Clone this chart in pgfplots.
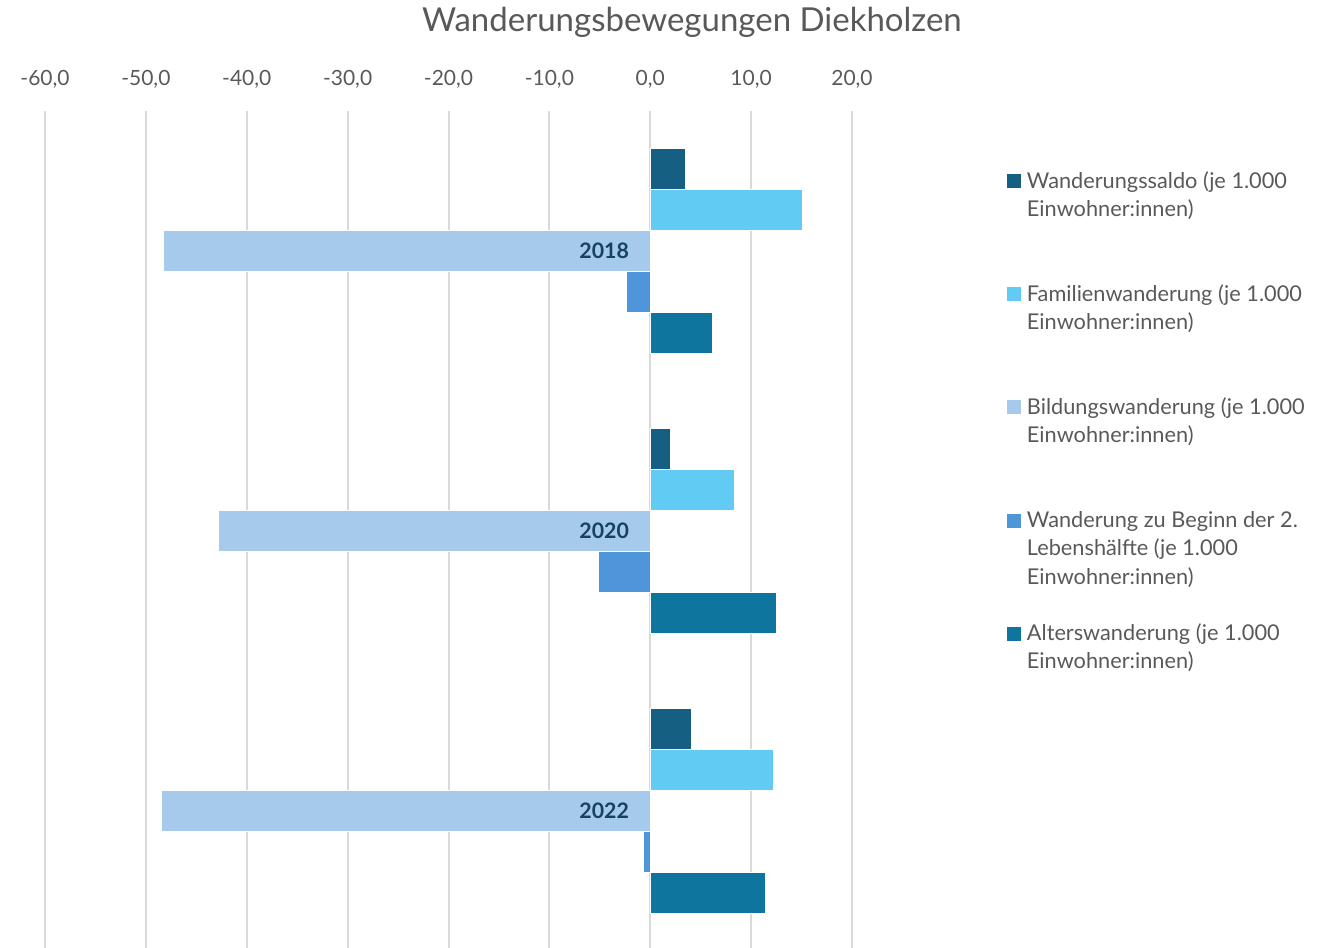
\documentclass[border=0pt]{standalone}
\usepackage{pgfplots}
\pgfplotsset{compat=1.18}
\usepackage{fontspec}
\setmainfont{Lato}
\definecolor{saldo}{HTML}{156082}
\definecolor{familien}{HTML}{61CBF3}
\definecolor{bildung}{HTML}{A6CAEC}
\definecolor{beginn}{HTML}{4E95D9}
\definecolor{alters}{HTML}{0E759E}
\definecolor{yearcol}{HTML}{15435F}
\definecolor{gridgray}{HTML}{D9D9D9}
\definecolor{textgray}{HTML}{595959}
\begin{document}
\begin{tikzpicture}
\useasboundingbox (0,0) rectangle (999pt,-711pt);
\begin{axis}[
  at={(33.75pt,-713.25pt)}, anchor=south west,
  scale only axis, width=605.25pt, height=630pt,
  xbar, bar width=30.75pt,
  xmin=-60, xmax=20, ymin=-0.5, ymax=2.5,
  xtick={-60,-50,-40,-30,-20,-10,0,10,20},
  ytick=\empty,
  axis x line*=top,
  x axis line style={draw=none},
  axis y line=center,
  y axis line style={-, draw=gridgray, line width=1.5pt},
  xmajorgrids, grid style={gridgray, line width=1.5pt},
  major tick style={draw=none},
  /pgf/number format/assume math mode=true,
  xticklabel={\pgfmathprintnumber[fixed, fixed zerofill, precision=1, use comma]{\tick}},
  x tick label style={font=\fontsize{15.75pt}{18pt}\selectfont, text=textgray, anchor=center, yshift=24pt},
  legend cell align=left,
  legend image code/.code={\fill[#1,draw=none] (0pt,0pt) rectangle (10.5pt,10.5pt);},
  legend style={at={(axis description cs:1.192,0.9316)}, anchor=north west, draw=none, fill=none,
    font=\fontsize{16.3pt}{21.75pt}\selectfont, text=textgray,
    row sep=0pt, column sep=4.5pt, inner sep=0pt, outer sep=0pt,
    nodes={inner sep=0pt, anchor=base west, text height=15pt, text depth=6.19pt}},
]
\addplot[xbar, bar shift=61.5pt, fill=saldo, draw=white, line width=0.5pt]
  coordinates {(3.5,2) (2.0,1) (4.1,0)};
\addlegendentry{Wanderungssaldo (je 1.000}
\addlegendimage{empty legend}\addlegendentry{Einwohner:innen)}
\addlegendimage{empty legend}\addlegendentry{}
\addlegendimage{empty legend}\addlegendentry{}
\addplot[xbar, bar shift=30.75pt, fill=familien, draw=white, line width=0.5pt]
  coordinates {(15.1,2) (8.3,1) (12.2,0)};
\addlegendentry{Familienwanderung (je 1.000}
\addlegendimage{empty legend}\addlegendentry{Einwohner:innen)}
\addlegendimage{empty legend}\addlegendentry{}
\addlegendimage{empty legend}\addlegendentry{}
\addplot[xbar, bar shift=0pt, fill=bildung, draw=white, line width=0.5pt]
  coordinates {(-48.3,2) (-42.8,1) (-48.5,0)};
\addlegendentry{Bildungswanderung (je 1.000}
\addlegendimage{empty legend}\addlegendentry{Einwohner:innen)}
\addlegendimage{empty legend}\addlegendentry{}
\addlegendimage{empty legend}\addlegendentry{}
\addplot[xbar, bar shift=-30.75pt, fill=beginn, draw=white, line width=0.5pt]
  coordinates {(-2.35,2) (-5.1,1) (-0.65,0)};
\addlegendentry{Wanderung zu Beginn der 2.}
\addlegendimage{empty legend}\addlegendentry{Lebenshälfte (je 1.000}
\addlegendimage{empty legend}\addlegendentry{Einwohner:innen)}
\addlegendimage{empty legend}\addlegendentry{}
\addplot[xbar, bar shift=-61.5pt, fill=alters, draw=white, line width=0.5pt]
  coordinates {(6.2,2) (12.5,1) (11.4,0)};
\addlegendentry{Alterswanderung (je 1.000}
\addlegendimage{empty legend}\addlegendentry{Einwohner:innen)}
\node[anchor=east, font=\bfseries\fontsize{16pt}{18pt}\selectfont, text=yearcol, xshift=-12.5pt] at (axis cs:0,2) {2018};
\node[anchor=east, font=\bfseries\fontsize{16pt}{18pt}\selectfont, text=yearcol, xshift=-12.5pt] at (axis cs:0,1) {2020};
\node[anchor=east, font=\bfseries\fontsize{16pt}{18pt}\selectfont, text=yearcol, xshift=-12.5pt] at (axis cs:0,0) {2022};
\end{axis}
\node[text=textgray, font=\fontsize{24.75pt}{28pt}\selectfont] at (519pt,-16.5pt) {Wanderungsbewegungen Diekholzen};
\end{tikzpicture}
\end{document}
